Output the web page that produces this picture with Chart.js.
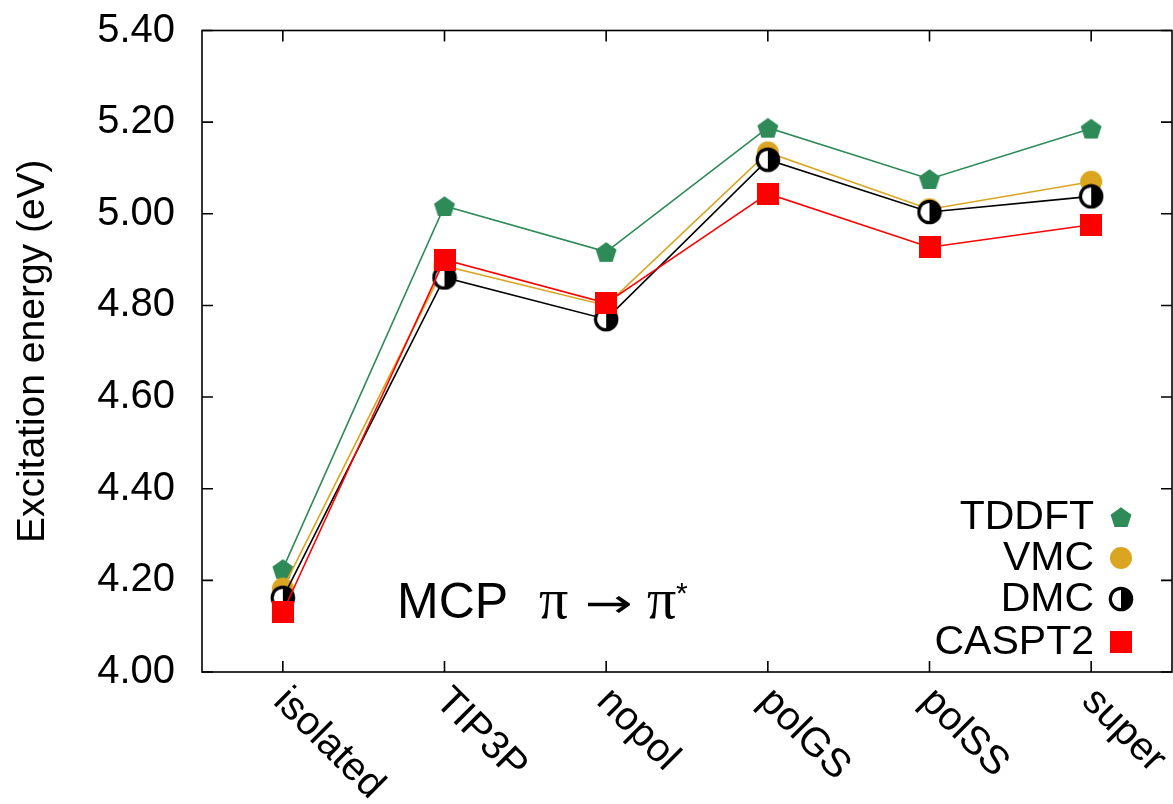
<!DOCTYPE html>
<html><head><meta charset="utf-8">
<script src="https://cdn.jsdelivr.net/npm/chart.js@4.4.0/dist/chart.umd.min.js"></script>
<style>html,body{margin:0;padding:0;background:#fff;overflow:hidden}</style>
</head><body>
<canvas id="c" width="1173" height="804" style="width:1173px;height:804px;display:block"></canvas>
<script>
const categories = ['isolated', 'TIP3P', 'nopol', 'polGS', 'polSS', 'super'];
const tddft  = [4.225, 5.017, 4.917, 5.188, 5.076, 5.186];
const vmc    = [4.182, 4.886, 4.800, 5.134, 5.010, 5.070];
const dmc    = [4.162, 4.861, 4.770, 5.118, 5.004, 5.038];
const caspt2 = [4.131, 4.900, 4.805, 5.044, 4.927, 4.976];
const yTicks = [4.00, 4.20, 4.40, 4.60, 4.80, 5.00, 5.20, 5.40];
const seriesNames = ['TDDFT', 'VMC', 'DMC', 'CASPT2'];

const GREEN = '#2e8b57', GOLD = '#daa520', RED = '#ff0000';
const FONT = '"Liberation Sans", Arial, Helvetica, sans-serif';
const SERIF = '"Liberation Serif", "DejaVu Serif", serif';

function mk(size, draw) {
  const c = document.createElement('canvas');
  c.width = size; c.height = size;
  const g = c.getContext('2d');
  draw(g, size / 2);
  return c;
}
const pentagon = mk(24, (g, m) => {
  const r = 11;
  g.beginPath();
  for (let i = 0; i < 5; i++) {
    const a = -Math.PI / 2 + i * 2 * Math.PI / 5;
    const x = m + r * Math.cos(a), y = m + 1.2 + r * Math.sin(a);
    i ? g.lineTo(x, y) : g.moveTo(x, y);
  }
  g.closePath(); g.fillStyle = GREEN; g.fill();
});
const goldCircle = mk(24, (g, m) => {
  g.beginPath(); g.arc(m, m, 11, 0, Math.PI * 2); g.fillStyle = GOLD; g.fill();
});
const halfCircle = mk(26, (g, m) => {
  g.beginPath(); g.arc(m, m, 10.7, 0, Math.PI * 2); g.fillStyle = '#fff'; g.fill();
  g.beginPath(); g.arc(m, m, 10.7, -Math.PI / 2, Math.PI / 2); g.closePath(); g.fillStyle = '#000'; g.fill();
  g.beginPath(); g.arc(m, m, 10.7, 0, Math.PI * 2); g.lineWidth = 3.2; g.strokeStyle = '#000'; g.stroke();
});
const redSquare = mk(22, (g, m) => { g.fillStyle = RED; g.fillRect(0, 0, 22, 22); });
const markers = [pentagon, goldCircle, halfCircle, redSquare];
const colors = [GREEN, GOLD, '#000', RED];
const values = [tddft, vmc, dmc, caspt2];

const datasets = values.map((v, i) => ({
  label: seriesNames[i], data: v, borderColor: colors[i], borderWidth: 1.6,
  pointStyle: markers[i], pointRadius: 11, pointHoverRadius: 11,
  fill: false, tension: 0, order: 4 - i
}));

const framePlugin = {
  id: 'frame',
  afterDraw(chart) {
    const ctx = chart.ctx, a = chart.chartArea;
    const xs = chart.scales.x, ys = chart.scales.y;
    ctx.save();
    ctx.strokeStyle = '#000'; ctx.lineWidth = 1.6;
    ctx.strokeRect(a.left, a.top, a.right - a.left, a.bottom - a.top);
    ctx.beginPath();
    yTicks.forEach(t => {
      const y = ys.getPixelForValue(t);
      ctx.moveTo(a.left, y); ctx.lineTo(a.left + 11, y);
      ctx.moveTo(a.right, y); ctx.lineTo(a.right - 11, y);
    });
    categories.forEach((c, i) => {
      const x = xs.getPixelForValue(i);
      ctx.moveTo(x, a.bottom); ctx.lineTo(x, a.bottom - 11);
      ctx.moveTo(x, a.top); ctx.lineTo(x, a.top + 11);
    });
    ctx.stroke();
    // rotated x labels
    ctx.fillStyle = '#000';
    ctx.font = '40px ' + FONT;
    ctx.textAlign = 'left'; ctx.textBaseline = 'middle';
    categories.forEach((c, i) => {
      const x = xs.getPixelForValue(i);
      ctx.save();
      ctx.translate(x - 3, a.bottom + 23);
      ctx.rotate(Math.PI / 4);
      ctx.fillText(c, 0, 0);
      ctx.restore();
    });
    // legend
    const rows = [517, 558, 599, 642];
    ctx.font = '41px ' + FONT;
    ctx.textAlign = 'right';
    seriesNames.forEach((n, i) => {
      ctx.fillText(n, 1094, rows[i] + 1);
      const m = markers[i];
      ctx.drawImage(m, 1121 - m.width / 2, rows[i] - m.height / 2);
    });
    // annotation
    ctx.textAlign = 'left'; ctx.textBaseline = 'alphabetic';
    ctx.font = '50px ' + FONT;
    ctx.fillText('MCP', 397, 618);
    ctx.font = '58px ' + SERIF;
    ctx.fillText('\u03c0', 539, 618);
    ctx.fillText('\u03c0', 647, 618);
    ctx.save();
    ctx.font = '50px "DejaVu Sans", sans-serif';
    const w = ctx.measureText('\u2192').width;
    ctx.translate(585, 617);
    ctx.scale(48 / w, 0.8);
    ctx.fillText('\u2192', 0, 0);
    ctx.restore();
    ctx.font = '30px ' + FONT;
    ctx.fillText('*', 676, 603);
    ctx.restore();
  }
};

new Chart(document.getElementById('c'), {
  type: 'line',
  data: { labels: categories, datasets },
  options: {
    responsive: false, animation: false, devicePixelRatio: 1,
    layout: { autoPadding: false, padding: { top: 30.5, right: 1, left: 0, bottom: 0 } },
    plugins: { legend: { display: false }, tooltip: { enabled: false } },
    scales: {
      x: {
        type: 'category', offset: true,
        grid: { display: false }, border: { display: false },
        ticks: { display: false },
        afterFit(s) { s.height = 132; s.paddingLeft = 0; s.paddingRight = 0; }
      },
      y: {
        min: 4.0, max: 5.4,
        grid: { display: false, drawTicks: false }, border: { display: false },
        afterBuildTicks(s) { s.ticks = yTicks.map(v => ({ value: v })); },
        ticks: {
          callback: v => Number(v).toFixed(2),
          font: { family: FONT, size: 40 }, color: '#000', padding: 27
        },
        title: {
          display: true, text: 'Excitation energy (eV)', color: '#000',
          font: { family: FONT, size: 39 }, padding: { top: 10, bottom: 0 }
        },
        afterFit(s) { s.width = 202; s.paddingTop = 0; s.paddingBottom = 0; }
      }
    }
  },
  plugins: [framePlugin]
});
</script>
</body></html>
